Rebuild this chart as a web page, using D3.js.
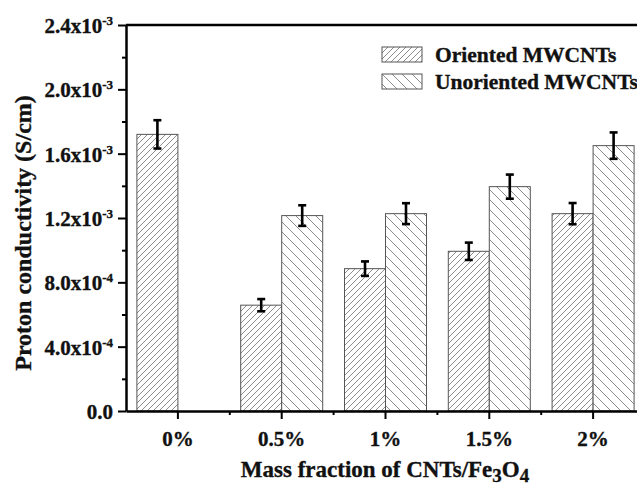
<!DOCTYPE html>
<html>
<head>
<meta charset="utf-8">
<script src="https://cdn.jsdelivr.net/npm/d3@7"></script>
<style>
  body { margin: 0; background: #fff; }
  text { font-family: "Liberation Serif", "Times New Roman", serif; font-weight: bold; fill: #111; stroke: #111; stroke-width: 0.35px; }
</style>
</head>
<body>
<div id="chart"></div>
<script>
// data
var categories = ["0%", "0.5%", "1%", "1.5%", "2%"];
var oriented = [1.72e-3, 0.658e-3, 0.885e-3, 0.993e-3, 1.227e-3];
var orientedErr = [0.088e-3, 0.038e-3, 0.045e-3, 0.054e-3, 0.066e-3];
var unoriented = [null, 1.215e-3, 1.227e-3, 1.395e-3, 1.650e-3];
var unorientedErr = [null, 0.064e-3, 0.065e-3, 0.075e-3, 0.082e-3];
var yTicks = [0, 0.4e-3, 0.8e-3, 1.2e-3, 1.6e-3, 2.0e-3, 2.4e-3];
var yTickLabels = [["0.0", ""], ["4.0x10", "-4"], ["8.0x10", "-4"], ["1.2x10", "-3"],
                   ["1.6x10", "-3"], ["2.0x10", "-3"], ["2.4x10", "-3"]];
var seriesNames = ["Oriented MWCNTs", "Unoriented MWCNTs"];

var width = 637, height = 486;
var margin = { top: 25, left: 126, bottom: 411, right: 645 };

var svg = d3.select("#chart").append("svg")
  .attr("width", width).attr("height", height);

// hatch patterns
var defs = svg.append("defs");
function hatch(id, step, dir) {
  var p = defs.append("pattern")
    .attr("id", id)
    .attr("patternUnits", "userSpaceOnUse")
    .attr("width", step).attr("height", step);
  p.append("rect").attr("width", step).attr("height", step).attr("fill", "#fff");
  if (dir > 0) {
    p.append("path").attr("d", "M0," + step + "L" + step + ",0M-1,1L1,-1M" + (step - 1) + "," + (step + 1) + "L" + (step + 1) + "," + (step - 1));
  } else {
    p.append("path").attr("d", "M0,0L" + step + "," + step + "M-1," + (step - 1) + "L1," + (step + 1) + "M" + (step - 1) + ",-1L" + (step + 1) + ",1");
  }
  p.select("path").attr("stroke", "#808080").attr("stroke-width", 0.9);
}
hatch("hatchO", 6, 1);
hatch("hatchU", 10, -1);

var x = d3.scaleBand().domain(categories).range([margin.left, margin.right]).padding(0);
var y = d3.scaleLinear().domain([0, 2.4e-3]).range([margin.bottom, margin.top]);
var bw = 41;

// bars
var rows = categories.map(function(c, i) {
  return { c: c, o: oriented[i], oe: orientedErr[i], u: unoriented[i], ue: unorientedErr[i] };
});

var bars = [];
rows.forEach(function(d) {
  var cx = x(d.c) + x.bandwidth() / 2;
  bars.push({ x0: cx - bw, v: d.o, e: d.oe, fill: "url(#hatchO)" });
  if (d.u != null) bars.push({ x0: cx, v: d.u, e: d.ue, fill: "url(#hatchU)" });
});

svg.selectAll("rect.bar").data(bars).enter().append("rect")
  .attr("class", "bar")
  .attr("x", function(d) { return d.x0; })
  .attr("y", function(d) { return y(d.v); })
  .attr("width", bw)
  .attr("height", function(d) { return y(0) - y(d.v); })
  .attr("fill", function(d) { return d.fill; })
  .attr("stroke", "#555").attr("stroke-width", 1);

// error bars
var eb = svg.selectAll("g.err").data(bars).enter().append("g")
  .attr("stroke", "#000").attr("stroke-width", 2.6);
eb.append("line")
  .attr("x1", function(d) { return d.x0 + bw / 2; })
  .attr("x2", function(d) { return d.x0 + bw / 2; })
  .attr("y1", function(d) { return y(d.v + d.e); })
  .attr("y2", function(d) { return y(d.v - d.e); });
[1, -1].forEach(function(s) {
  eb.append("line")
    .attr("x1", function(d) { return d.x0 + bw / 2 - 4; })
    .attr("x2", function(d) { return d.x0 + bw / 2 + 4; })
    .attr("y1", function(d) { return y(d.v + s * d.e); })
    .attr("y2", function(d) { return y(d.v + s * d.e); });
});

// top frame
svg.append("line")
  .attr("x1", margin.left).attr("x2", margin.right)
  .attr("y1", margin.top).attr("y2", margin.top)
  .attr("stroke", "#000").attr("stroke-width", 2.5);

// y axis
var yMinor = yTicks.slice(1).map(function(t, i) { return (t + yTicks[i]) / 2; });
svg.append("g")
  .attr("transform", "translate(" + margin.left + ",0)")
  .call(d3.axisLeft(y).tickValues(yMinor).tickSize(4).tickFormat(""))
  .call(function(g) { g.select(".domain").remove(); g.selectAll("line").attr("stroke-width", 2); });

var yAxis = svg.append("g")
  .attr("transform", "translate(" + margin.left + ",0)")
  .call(d3.axisLeft(y).tickValues(yTicks).tickSize(8).tickSizeOuter(0).tickPadding(5).tickFormat(""));
yAxis.select(".domain").attr("stroke-width", 2.5);
yAxis.selectAll(".tick line").attr("stroke-width", 2);
yAxis.selectAll(".tick").each(function(d, i) {
  var t = d3.select(this).append("text")
    .attr("x", -13).attr("dy", "0.35em")
    .attr("text-anchor", "end")
    .style("font-size", "21px");
  t.append("tspan").text(yTickLabels[i][0]);
  if (yTickLabels[i][1]) {
    t.append("tspan").attr("dy", "-0.6em").style("font-size", "13px").text(yTickLabels[i][1]);
  }
});

// x axis
svg.selectAll("line.xminor").data(categories.slice(1)).enter().append("line")
  .attr("class", "xminor")
  .attr("x1", function(d) { return x(d); }).attr("x2", function(d) { return x(d); })
  .attr("y1", margin.bottom).attr("y2", margin.bottom + 4)
  .attr("stroke", "#000").attr("stroke-width", 2);

var xAxis = svg.append("g")
  .attr("transform", "translate(0," + margin.bottom + ")")
  .call(d3.axisBottom(x).tickSize(8).tickSizeOuter(0).tickPadding(12));
xAxis.select(".domain").attr("stroke-width", 2.5);
xAxis.selectAll(".tick line").attr("stroke-width", 2);
xAxis.selectAll(".tick text").style("font-size", "21px");

// axis titles
svg.append("text")
  .attr("transform", "translate(31,233) rotate(-90)")
  .attr("text-anchor", "middle")
  .style("font-size", "24px")
  .text("Proton conductivity (S/cm)");

var xt = svg.append("text")
  .attr("x", 385).attr("y", 477)
  .attr("text-anchor", "middle")
  .style("font-size", "23px");
xt.append("tspan").text("Mass fraction of CNTs/Fe");
xt.append("tspan").attr("dy", 5).style("font-size", "19px").text("3");
xt.append("tspan").attr("dy", -5).text("O");
xt.append("tspan").attr("dy", 5).style("font-size", "19px").text("4");

// legend
var legend = svg.append("g").attr("transform", "translate(382,47)");
var li = legend.selectAll("g").data(seriesNames).enter().append("g")
  .attr("transform", function(d, i) { return "translate(0," + i * 27 + ")"; });
li.append("rect")
  .attr("width", 40).attr("height", 15)
  .attr("fill", function(d, i) { return i === 0 ? "url(#hatchO)" : "url(#hatchU)"; })
  .attr("stroke", "#555").attr("stroke-width", 1);
li.append("text")
  .attr("x", 53).attr("y", 14.5)
  .style("font-size", "21.5px")
  .text(function(d) { return d; });
</script>
</body>
</html>
